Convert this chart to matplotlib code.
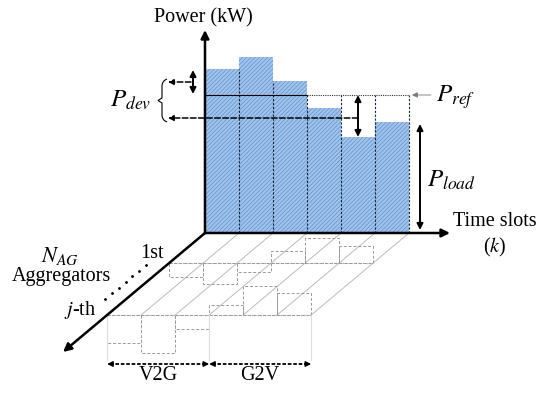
import numpy as np
import matplotlib.pyplot as plt
from matplotlib.path import Path
from matplotlib.patches import PathPatch

plt.rcParams['font.family'] = 'Liberation Serif'
plt.rcParams['mathtext.fontset'] = 'stix'
plt.rcParams['hatch.linewidth'] = 0.5

# power of each time slot (diagram units, origin at the axes corner)
slots = np.arange(6)
power = [164, 176, 152, 125, 96, 111]
p_ref = 138
slot_w = 34

# aggregator rows on the floor: depth and V2G(-)/G2V(+) power per slot
row_depth = [30, 82]
row_power = [[-14, -21, -9, 12, 25, 17],
             [-28, -38, -14, 10, 29, 22]]
skew = -142 / 119  # x shift per unit depth

fig = plt.figure(figsize=(5.5, 3.95), dpi=100)
ax = fig.add_axes([0, 0, 1, 1])
ax.set_xlim(-205, 345)
ax.set_ylim(-162, 233)
ax.axis('off')

# bars
ax.bar(slots * slot_w + slot_w / 2, power, width=slot_w, color='#A2C4EA',
       edgecolor='#5B8FD2', linewidth=0, hatch='////////', zorder=2)

# slot separators
tops = [max(p, p_ref) for p in power]
for k in range(1, 7):
    h = tops[k - 1] if k == 6 else min(tops[k - 1], tops[k])
    ax.plot([k * slot_w, k * slot_w], [0, h], color='#1B2633', lw=0.8,
            ls=(0, (2, 1.5)), zorder=3)

# reference line
ax.plot([0, 3 * slot_w], [p_ref, p_ref], color='k', lw=0.8, zorder=3)
ax.plot([3 * slot_w, 6 * slot_w], [p_ref, p_ref], color='#333333', lw=0.8,
        ls=(0, (1, 1)), zorder=3)

# floor grid
for k in range(1, 7):
    ax.plot([k * slot_w, k * slot_w + skew * row_depth[1]], [0, -row_depth[1]],
            color='#BBBBBB', lw=0.7, zorder=1)
for d, vals in zip(row_depth, row_power):
    x0 = skew * d
    ax.plot([x0, x0 + 6 * slot_w], [-d, -d], color='#AAAAAA', lw=0.8,
            ls=(0, (1, 1)), zorder=1)
    ax.bar(x0 + slots * slot_w + slot_w / 2, vals, width=slot_w, bottom=-d,
           fill=False, edgecolor='#999999', linewidth=0.7, linestyle=(0, (3, 2)),
           zorder=1)

# V2G / G2V brackets
xj = skew * row_depth[1]
for k in [0, 3, 6]:
    ax.plot([xj + k * slot_w] * 2, [-row_depth[1], -127], color='#DDDDDD',
            lw=0.8, zorder=1)
for a, b in [(0, 3), (3, 6)]:
    xa, xb = xj + a * slot_w, xj + b * slot_w
    ax.plot([xa + 3, xb - 3], [-131, -131], color='k', lw=1.3, ls=(0, (2, 1)))
    for tip, tail in [(xa, xa + 6), (xb, xb - 6)]:
        ax.annotate('', xy=(tip, -131), xytext=(tail, -131),
                    arrowprops=dict(arrowstyle='-|>', color='k', lw=1,
                                    mutation_scale=8, shrinkA=0, shrinkB=0))
ax.text(xj + 1.5 * slot_w, -143, 'V2G', fontsize=14.5, ha='center', va='center')
ax.text(xj + 4.5 * slot_w, -143, 'G2V', fontsize=14.5, ha='center', va='center')

# axes arrows
arrow_kw = dict(arrowstyle='-|>', color='k', lw=1.8, mutation_scale=12,
                shrinkA=0, shrinkB=0)
ax.annotate('', xy=(0, 203), xytext=(0, 0), arrowprops=arrow_kw, zorder=4)
ax.annotate('', xy=(245, 0), xytext=(0, 0), arrowprops=arrow_kw, zorder=4)
ax.annotate('', xy=(-142, -119), xytext=(0, 0), arrowprops=arrow_kw, zorder=4)

# double arrows
dbl = dict(arrowstyle='<|-|>', color='k', lw=1.4, mutation_scale=9,
           shrinkA=0, shrinkB=0)
ax.annotate('', xy=(-12, 163), xytext=(-12, 139), arrowprops=dbl)
ax.annotate('', xy=(153, p_ref), xytext=(153, power[4]), arrowprops=dbl, zorder=4)
ax.annotate('', xy=(215, 109), xytext=(215, 3), arrowprops=dbl)

# P_dev dashed arrows
dash = dict(arrowstyle='-|>', color='k', lw=1.1, ls='--', mutation_scale=8,
            shrinkA=0, shrinkB=0)
ax.annotate('', xy=(-37, 151), xytext=(-14, 151), arrowprops=dash)
ax.annotate('', xy=(-37, 115), xytext=(153, 115), arrowprops=dash, zorder=4)

# P_ref pointer
ax.annotate('', xy=(207, p_ref), xytext=(226, p_ref),
            arrowprops=dict(arrowstyle='-|>', color='#777777', lw=0.6,
                            mutation_scale=8, shrinkA=0, shrinkB=0))

# brace for P_dev (pixel-like points converted to diagram units)
bx = np.array([167, 162, 162, 162, 158, 162, 162, 162, 167]) - 205
by = 233 - np.array([79, 81, 86, 98, 100.5, 103, 115, 120, 122])
codes = [Path.MOVETO, Path.CURVE3, Path.CURVE3, Path.LINETO, Path.LINETO,
         Path.LINETO, Path.LINETO, Path.CURVE3, Path.CURVE3]
brace = Path(np.column_stack([bx, by]), codes)
ax.add_patch(PathPatch(brace, fill=False, lw=0.8, color='k'))

# labels
ax.text(-2, 215, 'Power (kW)', fontsize=14.5, ha='center', va='center')
ax.text(-54, 133, r'$P_{dev}$', fontsize=18, ha='right', va='center')
ax.text(231, 136, r'$P_{ref}$', fontsize=18, ha='left', va='center')
ax.text(222, 53, r'$P_{load}$', fontsize=18, ha='left', va='center')
ax.text(290, 11, 'Time slots', fontsize=14.5, ha='center', va='center')
ax.text(290, -14, r'($k$)', fontsize=14.5, ha='center', va='center')
ax.text(-145, -23, r'$N_{AG}$', fontsize=16, ha='center', va='center')
ax.text(-144, -44, 'Aggregators', fontsize=14.5, ha='center', va='center')
ax.text(-53, -20, '1st', fontsize=14.5, ha='center', va='center')
ax.text(-125, -77, r'$j$-th', fontsize=14.5, ha='center', va='center')

# dots between 1st and j-th
ax.plot(np.linspace(-100, -59, 7), np.linspace(-66, -32, 7), ls='none',
        marker='.', ms=2, color='k')

fig.savefig('out.png', dpi=100)
